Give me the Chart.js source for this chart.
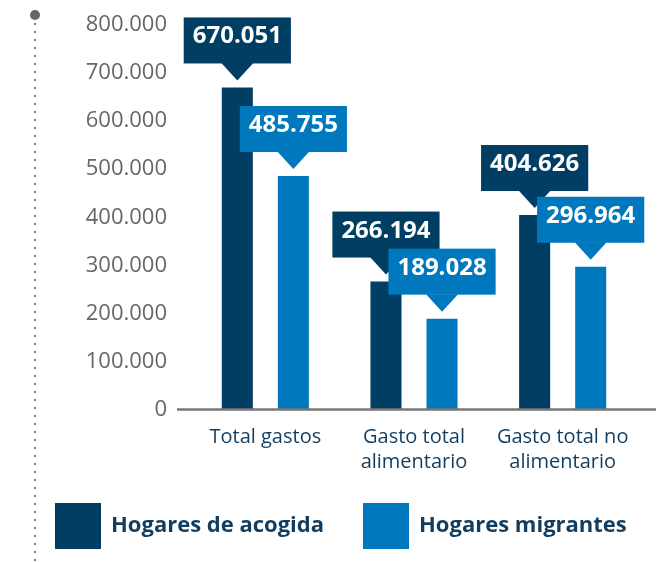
<!DOCTYPE html>
<html lang="es">
<head>
<meta charset="UTF-8">
<title>Gasto de los hogares</title>
<script src="https://cdn.jsdelivr.net/npm/chart.js"></script>
<style>
  html, body { margin: 0; padding: 0; background: #fff; }
  #wrap { width: 663px; height: 562px; }
</style>
</head>
<body>
<div id="wrap"><canvas id="gastoChart" width="663" height="562"></canvas></div>
<script>
// datos
const categorias = [['Total gastos'], ['Gasto total', 'alimentario'], ['Gasto total no', 'alimentario']];
const series = ['Hogares de acogida', 'Hogares migrantes'];
const hogaresAcogida = [670051, 266194, 404626];
const hogaresMigrantes = [485755, 189028, 296964];
const ticksEje = [0, 100000, 200000, 300000, 400000, 500000, 600000, 700000, 800000];

const AZUL_OSCURO = '#003e63';
const AZUL_CLARO = '#0078be';
const TEXTO_AZUL = '#123d5f';
const FUENTE = "'Open Sans', sans-serif";

function formatoMiles(v) {
  return String(v).replace(/\B(?=(\d{3})+(?!\d))/g, '.');
}

// linea punteada vertical a la izquierda
const lineaLateral = {
  id: 'lineaLateral',
  beforeDraw(chart) {
    const ctx = chart.ctx;
    ctx.save();
    ctx.fillStyle = '#7a7a7a';
    for (let y = 23; y < 562; y += 8) {
      ctx.fillRect(34, y, 2, 2);
    }
    ctx.fillStyle = '#666';
    ctx.beginPath();
    ctx.arc(35, 15, 5, 0, Math.PI * 2);
    ctx.fill();
    ctx.restore();
  }
};

// linea base del eje en el valor 0
const lineaBase = {
  id: 'lineaBase',
  afterDatasetsDraw(chart) {
    const ctx = chart.ctx;
    const y = chart.scales.y.getPixelForValue(0);
    ctx.save();
    ctx.strokeStyle = '#777';
    ctx.lineWidth = 2.5;
    ctx.beginPath();
    ctx.moveTo(chart.chartArea.left - 14, y);
    ctx.lineTo(chart.chartArea.right + 19, y);
    ctx.stroke();
    ctx.restore();
  }
};

// globos con el valor encima de cada barra
const globos = {
  id: 'globos',
  afterDatasetsDraw(chart) {
    const ctx = chart.ctx;
    ctx.save();
    ctx.font = 'bold 24px ' + FUENTE;
    chart.data.datasets.forEach((ds, i) => {
      const meta = chart.getDatasetMeta(i);
      meta.data.forEach((bar, j) => {
        const texto = formatoMiles(ds.data[j]);
        const ancho = ctx.measureText(texto).width + 18;
        const alto = 46;
        const base = bar.y - 24;
        const x0 = bar.x - ancho / 2;
        ctx.fillStyle = ds.backgroundColor;
        ctx.fillRect(x0, base - alto, ancho, alto);
        ctx.beginPath();
        ctx.moveTo(bar.x - 16, base - 0.5);
        ctx.lineTo(bar.x + 16, base - 0.5);
        ctx.lineTo(bar.x, bar.y - 7);
        ctx.closePath();
        ctx.fill();
        ctx.fillStyle = '#fff';
        ctx.textAlign = 'center';
        ctx.textBaseline = 'alphabetic';
        ctx.fillText(texto, bar.x, base - alto + 26);
      });
    });
    ctx.restore();
  }
};

// leyenda con cuadrados grandes debajo del grafico
const leyenda = {
  id: 'leyenda',
  afterDraw(chart) {
    const ctx = chart.ctx;
    ctx.save();
    ctx.font = 'bold 22px ' + FUENTE;
    ctx.textBaseline = 'middle';
    let x = 55;
    chart.data.datasets.forEach(ds => {
      ctx.fillStyle = ds.backgroundColor;
      ctx.fillRect(x, 503, 46, 46);
      ctx.fillStyle = TEXTO_AZUL;
      ctx.fillText(ds.label, x + 56, 526);
      x += 56 + ctx.measureText(ds.label).width + 39;
    });
    ctx.restore();
  }
};

new Chart(document.getElementById('gastoChart'), {
  type: 'bar',
  data: {
    labels: categorias,
    datasets: [
      { label: series[0], data: hogaresAcogida, backgroundColor: AZUL_OSCURO },
      { label: series[1], data: hogaresMigrantes, backgroundColor: AZUL_CLARO }
    ]
  },
  options: {
    responsive: false,
    animation: false,
    categoryPercentage: 0.754,
    barPercentage: 0.554,
    layout: { padding: { top: 25, right: 26, bottom: 0, left: 0 } },
    plugins: {
      legend: { display: false },
      tooltip: { enabled: false }
    },
    scales: {
      x: {
        grid: { display: false, drawTicks: false },
        border: { display: false },
        ticks: {
          color: TEXTO_AZUL,
          font: { family: FUENTE, size: 20, lineHeight: 1.25 },
          padding: 15,
          maxRotation: 0
        },
        afterFit(scale) { scale.height = 152.5; }
      },
      y: {
        min: 0,
        max: 800000,
        // marcas ocultas: solo separan las etiquetas del area del grafico
        grid: { display: false, drawTicks: true, tickLength: 24 },
        border: { display: false },
        afterBuildTicks(scale) { scale.ticks = ticksEje.map(v => ({ value: v })); },
        ticks: {
          color: '#666',
          font: { family: FUENTE, size: 22 },
          padding: 0,
          callback: v => formatoMiles(v)
        },
        afterFit(scale) { scale.width = 191; }
      }
    }
  },
  plugins: [lineaLateral, lineaBase, globos, leyenda]
});
</script>
</body>
</html>
